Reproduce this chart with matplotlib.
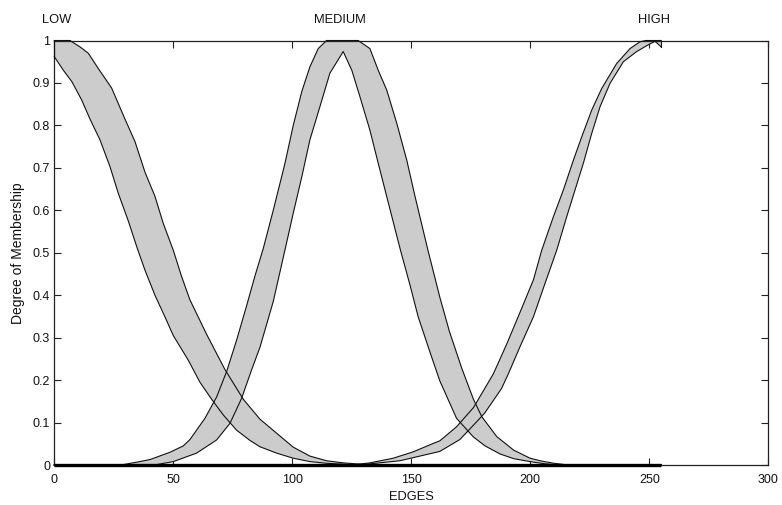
import matplotlib
matplotlib.use("Agg")
import matplotlib.pyplot as plt

plt.rcParams['font.family'] = ['Liberation Sans', 'DejaVu Sans']

# ---- data ----
DOMAIN = [0, 255]

LOW_UPPER_X = [0, 6.6, 10.8, 14.3, 18.5, 24.1, 29.7, 33.9, 38.1, 42.3, 45.8, 50, 53.5, 57,
               64, 71.7, 79.4, 86.4, 93.4, 100.4, 107.4, 114.4, 121.5, 128.5, 140, 255]
LOW_UPPER_Y = [1, 1, 0.985, 0.970, 0.934, 0.888, 0.815, 0.762, 0.690, 0.633, 0.569, 0.506, 0.444, 0.389,
               0.308, 0.225, 0.155, 0.108, 0.075, 0.042, 0.021, 0.010, 0.005, 0.002, 0, 0]
LOW_LOWER_X = [0, 3.8, 7.4, 11.5, 15, 19.2, 23.4, 26.9, 31.1, 34.6, 38.1, 42.3, 46.5, 50,
               56.3, 61.2, 66.1, 71, 76.6, 82.2, 86.4, 93.4, 100.4, 107.4, 114.4, 125, 255]
LOW_LOWER_Y = [0.962, 0.930, 0.903, 0.860, 0.815, 0.766, 0.703, 0.640, 0.575, 0.515, 0.459, 0.400, 0.349, 0.305,
               0.247, 0.195, 0.155, 0.118, 0.082, 0.058, 0.043, 0.028, 0.016, 0.008, 0.004, 0.001, 0]

MED_UPPER_X = [0, 28, 35.9, 40.3, 48.6, 54.2, 57, 63.3, 68.2, 72.4, 76.6, 80.8, 84.3, 87.8, 92,
               96.9, 100.4, 104, 107.4, 110.9, 114.4, 127.7, 132.6, 136.1, 139.7, 143.9, 148.1,
               151.6, 157, 162, 166, 171.2, 176.1, 179.6, 185.9, 193, 199.9, 205, 210, 216, 255]
MED_UPPER_Y = [0, 0, 0.008, 0.013, 0.030, 0.045, 0.060, 0.110, 0.160, 0.220, 0.294, 0.375, 0.445, 0.510, 0.600,
               0.710, 0.800, 0.880, 0.938, 0.981, 1, 1, 0.981, 0.930, 0.883, 0.805, 0.718,
               0.632, 0.506, 0.395, 0.315, 0.228, 0.155, 0.114, 0.067, 0.035, 0.016, 0.009, 0.004, 0, 0]
MED_LOWER_X = [0, 42, 50, 59.8, 68.2, 73.8, 78.7, 82.9, 86.4, 92, 96.9, 100.4, 104, 107.4, 111.6,
               115.8, 121.4, 125, 128.4, 132.6, 136.1, 139.7, 143.9, 145.5, 149.4, 152.9, 157.9,
               162, 169, 176.1, 181, 187.3, 193, 199.9, 206, 212, 255]
MED_LOWER_Y = [0, 0, 0.008, 0.028, 0.059, 0.098, 0.157, 0.224, 0.277, 0.385, 0.506, 0.593, 0.679, 0.766, 0.844,
               0.923, 0.974, 0.930, 0.868, 0.789, 0.711, 0.632, 0.540, 0.505, 0.425, 0.349, 0.265,
               0.198, 0.110, 0.066, 0.045, 0.026, 0.015, 0.008, 0.003, 0, 0]

HIGH_UPPER_X = [0, 125, 132.6, 142.4, 150.8, 159.3, 162, 169, 176.1, 184.5, 190.1, 195.7, 201.3,
                204.8, 209.7, 213.9, 218.1, 221.6, 225.8, 230, 236.3, 241.9, 246.1, 248.5, 255]
HIGH_UPPER_Y = [0, 0, 0.005, 0.016, 0.031, 0.051, 0.057, 0.090, 0.135, 0.215, 0.285, 0.360, 0.436,
                0.506, 0.585, 0.648, 0.718, 0.773, 0.836, 0.887, 0.946, 0.981, 0.997, 1, 1]
HIGH_LOWER_X = [0, 128, 145.2, 153.6, 162, 170.4, 173.8, 180.8, 187.9, 190.8, 195.7, 201.3, 206.2,
                211.1, 215.3, 218.8, 222.3, 225.8, 229.3, 233.5, 239.1, 244.7, 249.6, 252.4, 255]
HIGH_LOWER_Y = [0, 0, 0.010, 0.021, 0.032, 0.060, 0.080, 0.122, 0.180, 0.215, 0.279, 0.349, 0.428,
                0.506, 0.585, 0.648, 0.711, 0.781, 0.844, 0.899, 0.950, 0.974, 0.990, 0.998, 0.985]

MF_NAMES = ["LOW", "MEDIUM", "HIGH"]
MF_LABEL_X = [1, 120, 252]

X_TICKS = [0, 50, 100, 150, 200, 250, 300]
Y_TICKS = [0, 0.1, 0.2, 0.3, 0.4, 0.5, 0.6, 0.7, 0.8, 0.9, 1]
Y_TICK_LABELS = ["0", "0.1", "0.2", "0.3", "0.4", "0.5", "0.6", "0.7", "0.8", "0.9", "1"]

# ---- figure ----
fig = plt.figure(figsize=(7.82, 5.05), dpi=100)
ax = fig.add_axes([0.0694, 0.0792, 0.9131, 0.8406])

bands = [(LOW_UPPER_X, LOW_UPPER_Y, LOW_LOWER_X, LOW_LOWER_Y),
         (MED_UPPER_X, MED_UPPER_Y, MED_LOWER_X, MED_LOWER_Y),
         (HIGH_UPPER_X, HIGH_UPPER_Y, HIGH_LOWER_X, HIGH_LOWER_Y)]

for ux, uy, lx, ly in bands:
    px = list(ux) + list(lx[::-1])
    py = list(uy) + list(ly[::-1])
    ax.fill(px, py, facecolor='#cccccc', edgecolor='none', zorder=2)
for ux, uy, lx, ly in bands:
    ax.plot(ux, uy, color='#111111', lw=0.8, zorder=3, clip_on=False)
    ax.plot(lx, ly, color='#111111', lw=0.8, zorder=3, clip_on=False)

# closing edges of the bands at the domain limits
ax.plot([DOMAIN[0], DOMAIN[0]], [LOW_LOWER_Y[0], LOW_UPPER_Y[0]], color='#111111', lw=0.8, zorder=3, clip_on=False)
ax.plot([DOMAIN[1], DOMAIN[1]], [HIGH_LOWER_Y[-1], HIGH_UPPER_Y[-1]], color='#111111', lw=0.8, zorder=3, clip_on=False)
# baseline where membership is zero over the domain
ax.plot(DOMAIN, [0, 0], color='black', lw=2.4, zorder=4, clip_on=False, solid_capstyle='butt')

for name, xc in zip(MF_NAMES, MF_LABEL_X):
    ax.text(xc, 1.048, name, ha='center', va='center', fontsize=9.3, color='#111111', clip_on=False)

ax.set_xlim(0, 300)
ax.set_ylim(0, 1)
ax.set_xticks(X_TICKS)
ax.set_xticklabels([str(t) for t in X_TICKS])
ax.set_yticks(Y_TICKS)
ax.set_yticklabels(Y_TICK_LABELS)
ax.tick_params(direction='in', length=5, width=0.8, top=True, right=True,
               labelsize=9, colors='#222222', labelcolor='#111111')
ax.tick_params(axis='x', pad=6.2)
ax.tick_params(axis='y', pad=3)
for s in ax.spines.values():
    s.set_linewidth(0.9)
    s.set_color('#222222')

ax.set_xlabel("EDGES", fontsize=9.3, labelpad=3.6, color='#111111')
ax.set_ylabel("Degree of Membership", fontsize=10, labelpad=5.5, color='#111111')

fig.savefig("out.png", dpi=100)
